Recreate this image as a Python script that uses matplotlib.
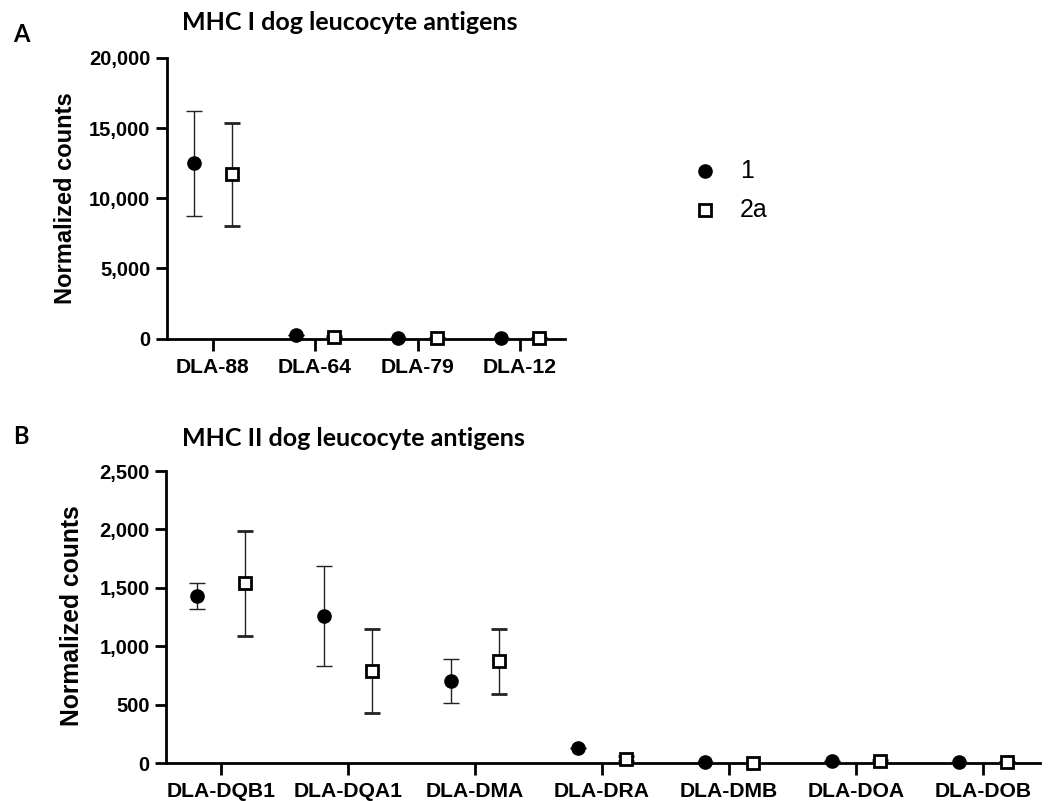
import matplotlib
matplotlib.use("Agg")
import matplotlib.pyplot as plt
from matplotlib.lines import Line2D
import numpy as np

W, H = 1050, 801

# ---------- data ----------
genes_a = ["DLA-88", "DLA-64", "DLA-79", "DLA-12"]
a_mean_1 = [12500, 250, 40, 30]
a_err_1 = [3750, 0, 0, 0]
a_mean_2a = [11700, 130, 20, 10]
a_err_2a = [3670, 80, 0, 0]

genes_b = ["DLA-DQB1", "DLA-DQA1", "DLA-DMA", "DLA-DRA", "DLA-DMB", "DLA-DOA", "DLA-DOB"]
b_mean_1 = [1432, 1259, 705, 128, 11, 20, 11]
b_err_1 = [110, 430, 189, 0, 0, 0, 0]
b_mean_2a = [1538, 790, 873, 40, 5, 18, 10]
b_err_2a = [445, 361, 277, 20, 0, 12, 0]

series_labels = ["1", "2a"]
yticks_a = [0, 5000, 10000, 15000, 20000]
yticks_b = [0, 500, 1000, 1500, 2000, 2500]

TICK_FONT = "Liberation Sans"
TITLE_FONT = ["Lato", "DejaVu Sans"]

fig = plt.figure(figsize=(W / 100, H / 100), dpi=100)


def fx(px):
    return px / W


def fy(py):
    return 1 - py / H


def draw_panel(ax, genes, m1, e1, m2, e2, yticks, xlim, label_pad_x, xfs):
    x = np.arange(len(genes))
    off = 0.187
    ax.errorbar(x - off, m1, yerr=e1, fmt="o", color="black", ms=9.5,
                ecolor="#222222", elinewidth=1.0, capsize=6, capthick=1.0,
                clip_on=False, zorder=5)
    ax.errorbar(x + off, m2, yerr=e2, fmt="s", mfc="white", mec="black",
                mew=2.0, ms=9, ecolor="#222222", elinewidth=1.0, capsize=6,
                capthick=1.0, clip_on=False, zorder=5)
    ax.set_xlim(*xlim)
    ax.set_ylim(yticks[0], yticks[-1])
    ax.set_xticks(x)
    ax.set_xticklabels(genes)
    ax.set_yticks(yticks)
    ax.set_yticklabels([f"{v:,}" for v in yticks])
    for s in ["top", "right"]:
        ax.spines[s].set_visible(False)
    for s in ["left", "bottom"]:
        ax.spines[s].set_linewidth(2.0)
        ax.spines[s].set_zorder(3)
    ax.tick_params(axis="x", length=8.6, width=2.0, pad=label_pad_x)
    ax.tick_params(axis="y", length=8.0, width=2.0, pad=4)
    for lab in ax.get_yticklabels():
        lab.set_fontfamily(TICK_FONT)
        lab.set_fontweight("bold")
        lab.set_fontsize(14.5)
    for lab in ax.get_xticklabels():
        lab.set_fontfamily(TICK_FONT)
        lab.set_fontweight("bold")
        lab.set_fontsize(xfs)


# Panel A
ax_a = fig.add_axes([fx(167), fy(338.5), fx(565) - fx(167), fy(58) - fy(338.5)])
draw_panel(ax_a, genes_a, a_mean_1, a_err_1, a_mean_2a, a_err_2a,
           yticks_a, (-0.446, 3.44), 5.5, 15.2)

# Panel B
ax_b = fig.add_axes([fx(166.5), fy(763.3), fx(1040) - fx(166.5), fy(471) - fy(763.3)])
draw_panel(ax_b, genes_b, b_mean_1, b_err_1, b_mean_2a, b_err_2a,
           yticks_b, (-0.43, 6.45), 5, 15.2)

# Titles / panel letters
fig.text(fx(182), fy(23), "MHC I dog leucocyte antigens", family=TITLE_FONT,
         fontweight="bold", fontsize=18, ha="left", va="center")
fig.text(fx(182), fy(438), "MHC II dog leucocyte antigens", family=TITLE_FONT,
         fontweight="bold", fontsize=18, ha="left", va="center")
fig.text(fx(13), fy(34), "A", family=TITLE_FONT, fontweight="bold",
         fontsize=17, ha="left", va="center")
fig.text(fx(13), fy(436), "B", family=TITLE_FONT, fontweight="bold",
         fontsize=17, ha="left", va="center")

# Y labels
fig.text(fx(66), fy(198), "Normalized counts", family=TICK_FONT,
         fontweight="bold", fontsize=17, rotation=90, ha="center", va="center")
fig.text(fx(72), fy(616), "Normalized counts", family=TICK_FONT,
         fontweight="bold", fontsize=17.8, rotation=90, ha="center", va="center")

# Legend (manual)
fig.add_artist(Line2D([fx(705)], [fy(170.7)], marker="o", color="black",
                      ms=9.5, linestyle="none", transform=fig.transFigure))
fig.add_artist(Line2D([fx(705)], [fy(210)], marker="s", mfc="white",
                      mec="black", mew=2.0, ms=9, linestyle="none",
                      transform=fig.transFigure))
fig.text(fx(740), fy(170.7), series_labels[0], family=TICK_FONT, fontsize=18,
         ha="left", va="center")
fig.text(fx(740), fy(210), series_labels[1], family=TICK_FONT, fontsize=18,
         ha="left", va="center")

fig.savefig("out.png", dpi=100)
